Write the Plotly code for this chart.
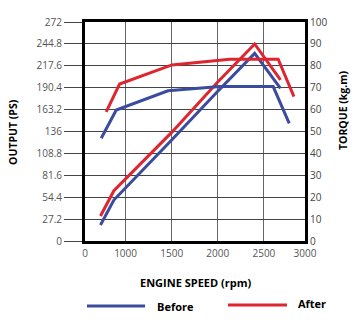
import plotly.graph_objects as go

# Data
rpm_power_before = [728, 873, 1500, 2000, 2400, 2680]
power_before = [19.9, 50.9, 125.5, 186.0, 233.0, 189.6]
rpm_power_after = [728, 873, 1500, 2000, 2400, 2680]
power_after = [31.0, 62.5, 134.9, 197.5, 244.7, 200.0]

rpm_torque_before = [736, 899, 1460, 2022, 2601, 2775]
torque_before = [46.9, 59.8, 68.6, 70.5, 70.5, 53.7]
rpm_torque_after = [790, 935, 1503, 2130, 2655, 2826]
torque_after = [59.0, 71.7, 80.4, 83.0, 83.0, 65.9]

x_tickvals = [560, 1000, 1500, 2000, 2500, 2946]
x_ticktext = ["0", "1000", "1500", "2000", "2500", "3000"]
ps_ticks = [0, 27.2, 54.4, 81.6, 108.8, 136, 163.2, 190.4, 217.6, 244.8, 272]
ps_text = ["0", "27.2", "54.4", "81.6", "108.8", "136", "163.2", "190.4", "217.6", "244.8", "272"]
kgm_ticks = [0, 10, 20, 30, 40, 50, 60, 70, 80, 90, 100]
series_names = ["Before", "After"]

BLUE = "#3b4c9e"
RED = "#dd2630"
FONT = "Open Sans, Noto Sans, sans-serif"

fig = go.Figure()
fig.add_trace(go.Scatter(x=rpm_power_before, y=power_before, mode="lines",
                         line=dict(color=BLUE, width=3), name=series_names[0]))
fig.add_trace(go.Scatter(x=rpm_torque_before, y=torque_before, mode="lines", yaxis="y2",
                         line=dict(color=BLUE, width=3), name=series_names[0]))
fig.add_trace(go.Scatter(x=rpm_power_after, y=power_after, mode="lines",
                         line=dict(color=RED, width=3), name=series_names[1]))
fig.add_trace(go.Scatter(x=rpm_torque_after, y=torque_after, mode="lines", yaxis="y2",
                         line=dict(color=RED, width=3), name=series_names[1]))

tickfont = dict(family=FONT, size=10, color="#555555")

# legend drawn below the chart (long swatches as in the reference)
legend_y = -0.297
shapes = [
    dict(type="line", xref="paper", yref="paper", x0=0.009, x1=0.273, y0=legend_y, y1=legend_y,
         line=dict(color=BLUE, width=3)),
    dict(type="line", xref="paper", yref="paper", x0=0.65, x1=0.918, y0=legend_y + 0.005,
         y1=legend_y + 0.005, line=dict(color=RED, width=3)),
]

fig.update_layout(
    width=363, height=322,
    margin=dict(l=85, r=58, t=22, b=81, autoexpand=False),
    paper_bgcolor="white", plot_bgcolor="white",
    font=dict(family=FONT, color="black"),
    showlegend=False,
    xaxis=dict(range=[560, 2946], tickvals=x_tickvals, ticktext=x_ticktext,
               showgrid=True, gridcolor="#666666", gridwidth=1,
               showline=True, linecolor="black", linewidth=3, mirror=True,
               ticks="outside", ticklen=1, tickcolor="rgba(0,0,0,0)",
               tickfont=tickfont, zeroline=False),
    yaxis=dict(range=[0, 272], tickvals=ps_ticks, ticktext=ps_text,
               showgrid=True, gridcolor="#444444", gridwidth=1,
               showline=True, linecolor="black", linewidth=3, mirror=True,
               ticks="outside", ticklen=18, tickcolor="#444444", tickwidth=1,
               tickfont=tickfont, zeroline=False),
    yaxis2=dict(range=[0, 100], tickvals=kgm_ticks, overlaying="y", side="right",
                showgrid=False, ticks="outside", ticklen=2, tickcolor="rgba(0,0,0,0)",
                tickfont=dict(family=FONT, size=10, color="#444444"),
                zeroline=False),
    shapes=shapes,
    annotations=[
        dict(text="<b>ENGINE SPEED (rpm)</b>", xref="paper", yref="paper", x=0.5, y=-0.19,
             showarrow=False, font=dict(size=11, color="black"), xanchor="center", yanchor="middle"),
        dict(text="<b>OUTPUT (PS)</b>", xref="paper", yref="paper", x=-0.33, y=0.5, textangle=-90,
             showarrow=False, font=dict(size=10.5, color="black"), xanchor="center", yanchor="middle"),
        dict(text="<b>TORQUE (kg.m)</b>", xref="paper", yref="paper", x=1.17, y=0.6, textangle=-90,
             showarrow=False, font=dict(size=10.5, color="black"), xanchor="center", yanchor="middle"),
        dict(text="<b>" + series_names[0] + "</b>", xref="paper", yref="paper", x=0.318, y=legend_y,
             showarrow=False, font=dict(size=11, color="black"), xanchor="left", yanchor="middle"),
        dict(text="<b>" + series_names[1] + "</b>", xref="paper", yref="paper", x=0.96, y=legend_y + 0.01,
             showarrow=False, font=dict(size=11, color="black"), xanchor="left", yanchor="middle"),
    ],
)

fig.write_html("out.html")
